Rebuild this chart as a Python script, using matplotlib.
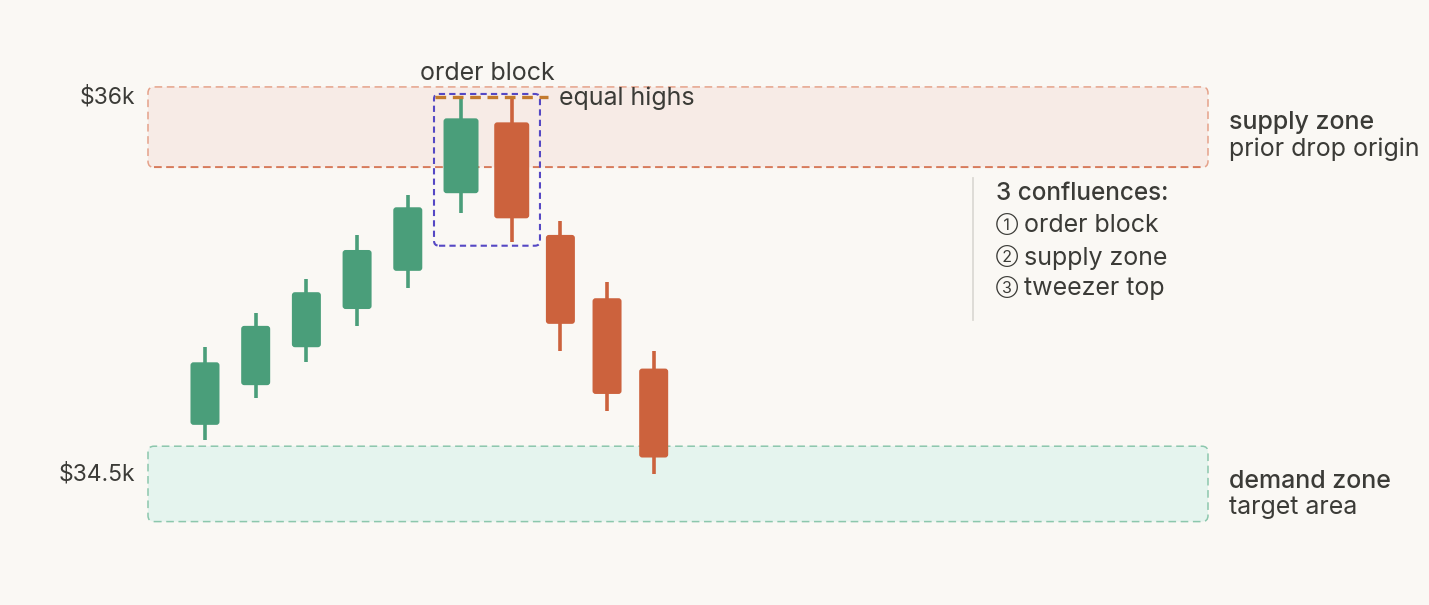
"""
Candlestick sketch: order block inside a supply zone, with a demand zone target.
Writes out.png.
"""

import matplotlib.pyplot as plt
from matplotlib.patches import FancyBboxPatch

# candles: session time (in bar units) and price ($)
t      = [0, 1.0, 2.0, 3.0, 4.0, 5.05, 6.05, 7.01, 7.93, 8.85]
opens  = [34695, 34853, 35004, 35156, 35308, 35617, 35899, 35451, 35199, 34919]
highs  = [35004, 35139, 35274, 35451, 35610, 36000, 36000, 35508, 35265, 34987]
lows   = [34635, 34801, 34944, 35089, 35239, 35537, 35424, 34987, 34752, 34500]
closes = [34944, 35089, 35223, 35391, 35561, 35915, 35517, 35097, 34818, 34565]
order_block = [5, 6]          # indices of the two tweezer candles

supply_zone = [35720, 36040]
demand_zone = [34310, 34610]
equal_high = 36000
price_labels = ["$36k", "$34.5k"]
price_levels = [36000, 34500]
conf_title = "3 confluences:"
conf_marks = ["\u2460", "\u2461", "\u2462"]
conf_items = ["order block", "supply zone", "tweezer top"]

BG = "#faf8f4"
GREEN = "#4a9e7a"
RED = "#cc623d"
INK = "#3b3b37"

plt.rcParams["font.family"] = ["Inter", "DejaVu Sans"]

fig = plt.figure(figsize=(14.29, 6.05), dpi=100, facecolor=BG)
ax = fig.add_axes([0, 0, 1, 1])
ax.set_facecolor(BG)
ax.set_xlim(-4.043, 24.142)
ax.set_ylim(33978, 36386)
ax.axis("off")

# px per data unit, for rounded corners
px_x = 50.7
px_y = 605 / (36386 - 33978)
aspect = px_x / px_y


def rbox(x0, x1, y0, y1, r_px, **kw):
    p = FancyBboxPatch((x0, y0), x1 - x0, y1 - y0,
                       boxstyle=f"round,pad=0,rounding_size={r_px / px_x}",
                       mutation_aspect=aspect, **kw)
    ax.add_patch(p)
    return p


# zones
zx0, zx1 = -1.124, 19.783
rbox(zx0, zx1, *supply_zone, 6, facecolor="#f7ebe6", edgecolor="#e5a28a",
     linestyle=(0, (5, 3)), linewidth=1.1, zorder=1)
ax.plot([zx0 + 0.12, zx1 - 0.12], [supply_zone[0]] * 2, color="#d4704e",
        linestyle=(0, (5, 3)), linewidth=1.1, zorder=1)
rbox(zx0, zx1, *demand_zone, 6, facecolor="#e5f4ee", edgecolor="#8cc7ad",
     linestyle=(0, (5, 3)), linewidth=1.1, zorder=1)

# candles
for i, (x, o, h, l, c) in enumerate(zip(t, opens, highs, lows, closes)):
    col = GREEN if c >= o else RED
    hw = 0.345 if i in order_block else 0.286
    ax.plot([x, x], [l, h], color=col, linewidth=2.6, solid_capstyle="butt", zorder=3)
    rbox(x - hw, x + hw, min(o, c), max(o, c), 3, facecolor=col,
         edgecolor="none", zorder=4)

# order block box + equal highs
rbox(4.517, 6.607, 35408, 36012, 5, facecolor="none", edgecolor="#5548c4",
     linestyle=(0, (3, 2)), linewidth=1.5, zorder=5)
ax.plot([4.536, 6.765], [equal_high, equal_high], color="#c37a2e",
        linestyle=(0, (3.2, 2)), linewidth=2.4, zorder=6)

ax.text(5.562, 36093, "order block", ha="center", va="center", fontsize=18, color=INK)
ax.text(6.982, 35994, "equal highs", ha="left", va="center", fontsize=18, color=INK)

for lab, lev in zip(price_labels, price_levels):
    ax.text(-1.381, lev, lab, ha="right", va="center", fontsize=16.5, color=INK)

ax.text(20.197, 35900, "supply zone", ha="left", va="center", fontsize=18,
        fontweight="medium", color=INK)
ax.text(20.197, 35793, "prior drop origin", ha="left", va="center", fontsize=18, color=INK)
ax.text(20.197, 34468, "demand zone", ha="left", va="center", fontsize=18,
        fontweight="medium", color=INK)
ax.text(20.197, 34365, "target area", ha="left", va="center", fontsize=18, color=INK)

# confluence list
ax.plot([15.148, 15.148], [35113, 35678], color="#dcdad4", linewidth=1.3)
ax.text(15.602, 35616, conf_title, ha="left", va="center", fontsize=17.5,
        fontweight="medium", color=INK)
conf_y = [35487, 35359, 35236]
for mk, item, yy in zip(conf_marks, conf_items, conf_y):
    ax.text(15.602, yy + 8, mk, ha="left", va="center", fontsize=11.5, color=INK)
    ax.text(16.154, yy, item, ha="left", va="center", fontsize=18, color=INK)

fig.savefig("out.png", dpi=100, facecolor=BG)
